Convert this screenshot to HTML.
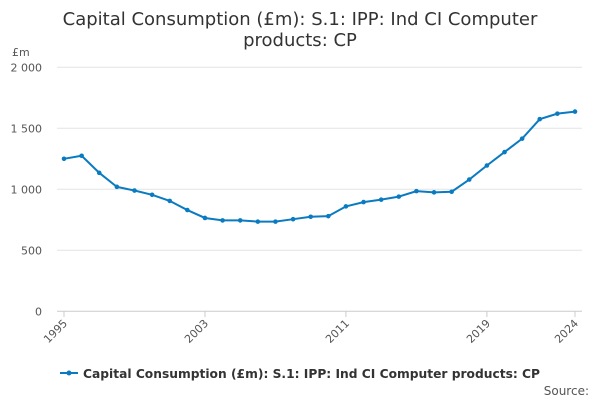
<!DOCTYPE html>
<html><head><meta charset="utf-8"><style>
body{margin:0;background:#fff;font-family:"DejaVu Sans","Liberation Sans",sans-serif}
svg{display:block;font-family:"DejaVu Sans","Liberation Sans",sans-serif}
</style></head><body>
<svg id="c" width="600" height="400">
<text x="300" y="25" text-anchor="middle" font-size="18" fill="#333">Capital Consumption (£m): S.1: IPP: Ind CI Computer</text>
<text x="300" y="46" text-anchor="middle" font-size="18" fill="#333">products: CP</text>
<text x="12" y="56" font-size="11" fill="#555">£m</text>
<g id="grid"></g><g id="xax"></g><g id="series"></g>
<g>
<line x1="60" y1="373" x2="78" y2="373" stroke="#0b7bc1" stroke-width="2"/>
<circle cx="69" cy="373" r="2.5" fill="#0b7bc1"/>
<text x="83" y="378" font-size="12" font-weight="bold" fill="#333" textLength="457" lengthAdjust="spacingAndGlyphs">Capital Consumption (£m): S.1: IPP: Ind CI Computer products: CP</text>
</g>
<text x="589" y="395" text-anchor="end" font-size="12" fill="#555">Source:</text>
</svg>
<script>
const years=[1995,1996,1997,1998,1999,2000,2001,2002,2003,2004,2005,2006,2007,2008,2009,2010,2011,2012,2013,2014,2015,2016,2017,2018,2019,2020,2021,2022,2023,2024];
const values=[1250,1275,1135,1020,990,955,905,830,765,745,745,735,735,755,775,780,860,895,915,940,985,975,980,1080,1195,1305,1415,1575,1620,1637];
const yTicks=[0,500,1000,1500,2000];
const yTickLabels=["0","500","1 000","1 500","2 000"];
const xTicks=[1995,2003,2011,2019,2024];
const ns="http://www.w3.org/2000/svg";
const X=y=>64+(y-1995)*(511/29);
const Y=v=>311.3-v*0.122;
function mk(t,a,p){const e=document.createElementNS(ns,t);for(const k in a)e.setAttribute(k,a[k]);p.appendChild(e);return e;}
const g=document.getElementById('grid');
yTicks.forEach((t,i)=>{
 const l=mk('line',{x1:57,x2:582,y1:Y(t),y2:Y(t),stroke:t===0?'#ccc':'#e3e3e3','stroke-width':1},g);
 
 
 const tx=mk('text',{x:42,y:Y(t)+4,'text-anchor':'end','font-size':11,fill:'#555'},g);
 tx.textContent=yTickLabels[i];
 
 
});
const xa=document.getElementById('xax');
xTicks.forEach(t=>{
 mk('line',{x1:X(t),x2:X(t),y1:311,y2:317,stroke:'#ccc'},xa);
 const tx=mk('text',{x:X(t)+4,y:324,'text-anchor':'end','font-size':11,fill:'#555',transform:`rotate(-45 ${X(t)+4} 324)`},xa);
 tx.textContent=t;
 
 
});
const s=document.getElementById('series');
const pl=mk('polyline',{points:years.map((y,i)=>X(y)+','+Y(values[i])).join(' '),fill:'none',stroke:'#0b7bc1','stroke-width':2},s);


years.forEach((y,i)=>{
 const c=mk('circle',{cx:X(y),cy:Y(values[i]),r:2.3,fill:'#0b7bc1'},s);
 
 
});
</script>
</body></html>
